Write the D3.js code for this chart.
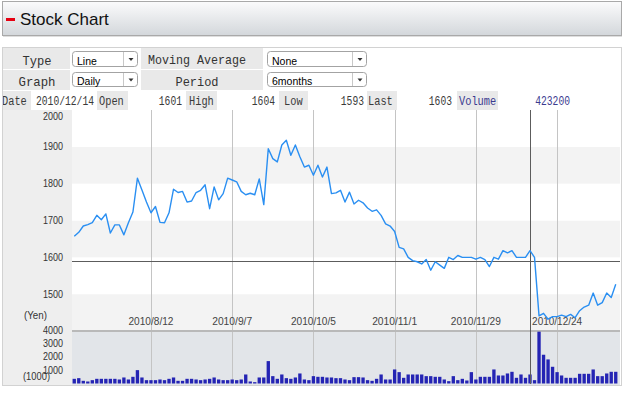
<!DOCTYPE html>
<html>
<head>
<meta charset="utf-8">
<script src="https://cdn.jsdelivr.net/npm/d3@7"></script>
<style>
html, body { margin: 0; padding: 0; background: #fff; }
svg { display: block; }
</style>
</head>
<body>
<svg width="626" height="395"></svg>
<script>
// daily closes, oldest first
var prices = [
  1657, 1668, 1685, 1689, 1694, 1714, 1702, 1718, 1666, 1688,
  1688, 1661, 1694, 1723, 1815, 1783, 1750, 1721, 1738, 1695,
  1694, 1721, 1785, 1776, 1779, 1750, 1753, 1776, 1782, 1797,
  1732, 1791, 1756, 1773, 1815, 1810, 1805, 1779, 1770, 1774,
  1770, 1813, 1743, 1895, 1868, 1859, 1905, 1918, 1877, 1905,
  1873, 1845, 1850, 1823, 1850, 1818, 1845, 1773, 1775, 1782,
  1750, 1777, 1745, 1755, 1748, 1734, 1725, 1729, 1714, 1691,
  1685, 1670, 1627, 1623, 1600, 1591, 1588, 1582, 1594, 1565,
  1588, 1579, 1570, 1600, 1594, 1605, 1600, 1600, 1600, 1595,
  1600, 1594, 1575, 1600, 1595, 1618, 1612, 1618, 1600, 1600,
  1600, 1618, 1600, 1441, 1448, 1432, 1439, 1439, 1443, 1439,
  1445, 1436, 1455, 1465, 1470, 1503, 1470, 1477, 1503, 1491,
  1527
];

// volume in thousands of shares
var volumes = [
  350, 400, 200, 150, 250, 350, 350, 350, 350, 350,
  300, 450, 300, 500, 1000, 450, 250, 250, 250, 300,
  250, 350, 450, 200, 200, 350, 350, 300, 250, 300,
  350, 450, 300, 250, 250, 300, 250, 300, 675, 150,
  100, 450, 450, 1675, 550, 350, 675, 400, 350, 450,
  750, 300, 250, 550, 500, 500, 450, 450, 400, 400,
  300, 250, 475, 475, 450, 250, 200, 350, 675, 300,
  300, 1050, 850, 425, 675, 675, 675, 675, 550, 550,
  500, 500, 300, 175, 550, 250, 350, 225, 850, 300,
  500, 500, 500, 1050, 600, 600, 750, 875, 425, 675,
  425, 675, 250, 3875, 2150, 1800, 1250, 850, 600, 425,
  425, 425, 725, 725, 725, 1050, 550, 550, 750, 875,
  875
];

var dateTicks = [17, 35, 53, 71, 89, 107];
var dateLabels = ['2010/8/12', '2010/9/7', '2010/10/5', '2010/11/1', '2010/11/29', '2010/12/24'];
var priceTicks = [1400, 1500, 1600, 1700, 1800, 1900, 2000];
var volumeTicks = [1000, 2000, 3000, 4000];

var selIndex = 101;
var selPrice = 1591;

var quoteLabels = ['Date', 'Open', 'High', 'Low', 'Last', 'Volume'];
var quoteValues = ['2010/12/14', '1601', '1604', '1593', '1603', '423200'];

var MONO = '"Liberation Mono", "DejaVu Sans Mono", monospace';
var SANS = '"Liberation Sans", Arial, sans-serif';

var svg = d3.select('svg');
var defs = svg.append('defs');

// ---- header bar
var grad = defs.append('linearGradient').attr('id', 'hdr')
  .attr('x1', 0).attr('y1', 0).attr('x2', 0).attr('y2', 1);
grad.append('stop').attr('offset', '0%').attr('stop-color', '#fbfbfc');
grad.append('stop').attr('offset', '100%').attr('stop-color', '#d3d7db');

svg.append('rect')
  .attr('x', 2.5).attr('y', 1.5).attr('width', 619).attr('height', 34)
  .attr('fill', 'url(#hdr)').attr('stroke', '#a9a9a9');
svg.append('line')
  .attr('x1', 3).attr('x2', 622).attr('y1', 36.5).attr('y2', 36.5)
  .attr('stroke', '#dedede');
svg.append('rect')
  .attr('x', 6).attr('y', 18).attr('width', 9).attr('height', 3)
  .attr('fill', '#e60012');
svg.append('text')
  .attr('x', 20).attr('y', 25)
  .style('font-family', SANS).style('font-size', '17px')
  .attr('fill', '#111')
  .text('Stock Chart');

// ---- control table
function cell(x, y, w, h, fill) {
  svg.append('rect')
    .attr('x', x).attr('y', y).attr('width', w).attr('height', h)
    .attr('fill', fill);
}

function monoText(x, y, str, size, len, anchor, color) {
  svg.append('text')
    .attr('x', x).attr('y', y)
    .attr('text-anchor', anchor)
    .attr('textLength', len)
    .attr('lengthAdjust', 'spacingAndGlyphs')
    .style('font-family', MONO).style('font-size', size + 'px')
    .attr('fill', color)
    .text(str);
}

var clipCount = 0;
function selectBox(x, y, w, h, str, base) {
  var id = 'sel' + (clipCount++);
  defs.append('clipPath').attr('id', id)
    .append('rect').attr('x', x).attr('y', y).attr('width', w).attr('height', h);
  svg.append('rect')
    .attr('x', x + 0.5).attr('y', y + 0.5).attr('width', w - 1).attr('height', h - 1)
    .attr('rx', 3).attr('fill', '#fff').attr('stroke', '#a3a3a3');
  svg.append('text')
    .attr('x', x + 5).attr('y', base)
    .attr('clip-path', 'url(#' + id + ')')
    .style('font-family', SANS).style('font-size', '10.5px')
    .attr('fill', '#000')
    .text(str);
  svg.append('line')
    .attr('x1', x + w - 14.5).attr('x2', x + w - 14.5)
    .attr('y1', y + 1).attr('y2', y + h - 1)
    .attr('stroke', '#c8c8c8');
  var ax = x + w - 7, ay = y + h / 2 - 1;
  svg.append('path')
    .attr('d', 'M' + (ax - 2.5) + ',' + ay + 'L' + (ax + 2.5) + ',' + ay + 'L' + ax + ',' + (ay + 3) + 'Z')
    .attr('fill', '#333');
}

var LABEL_BG = '#e9e9e9';

// rows 1 and 2
[[48, 21], [70, 20]].forEach(function (r) {
  cell(3, r[0], 67, r[1], LABEL_BG);
  cell(71, r[0], 69, r[1], '#fff');
  cell(141, r[0], 122, r[1], LABEL_BG);
  cell(264, r[0], 357, r[1], '#fff');
});
monoText(37, 64.5, 'Type', 13.5, 29, 'middle', '#333');
monoText(197, 64, 'Moving Average', 13.5, 98, 'middle', '#333');
monoText(37, 85.5, 'Graph', 13.5, 37, 'middle', '#333');
monoText(197, 85.5, 'Period', 13.5, 43, 'middle', '#333');

selectBox(72, 51, 66, 16, 'Line', 64.5);
selectBox(267, 51, 100, 16, 'None', 64.5);
selectBox(72, 72, 66, 15, 'Daily', 85);
selectBox(267, 72, 100, 15, '6months', 85);

// row 3: quote cells (label cell, value cell)
var quoteCells = [
  [3, 28, 32, 64], [97, 31, 129, 56], [186, 31, 218, 60],
  [279, 29, 309, 57], [367, 30, 398, 58], [457, 41, 499, 78]
];
var quoteLabelX = [2, 99, 189, 284, 368, 459];
var quoteValueEnd = [94, 182, 275, 364, 452, 570];
quoteCells.forEach(function (c, k) {
  cell(c[0], 91, c[1], 19, LABEL_BG);
  cell(c[2], 91, c[3], 19, '#fff');
  var col = quoteLabels[k] === 'Volume' ? '#3b3b8f' : '#3a3a3a';
  monoText(quoteLabelX[k], 104.5, quoteLabels[k], 12.5, quoteLabels[k].length * 6.2, 'start', col);
  monoText(quoteValueEnd[k], 104.5, quoteValues[k], 12.5, quoteValues[k].length * 5.8, 'end', col);
});
cell(578, 91, 43, 19, '#fff');

// ---- chart
var n = prices.length;
var plotLeft = 72, plotRight = 620, pointsRight = 618;
var priceTop = 110, priceBottom = 331;
var volTop = 331, volBottom = 384;

var x = d3.scaleLinear().domain([0, n]).range([plotLeft, pointsRight]);
var step = x(1) - x(0);
function cx(i) { return x(i + 0.5); }

var y = d3.scaleLinear().domain([1400, 2000]).range([priceBottom, priceTop]);
var yv = d3.scaleLinear().domain([0, 4000]).range([volBottom - 0.5, volTop - 1]);

// label column
cell(3, 110, 69, 275, '#eeeeee');

// price bands
svg.append('g').selectAll('rect')
  .data(d3.pairs(priceTicks))
  .join('rect')
  .attr('x', plotLeft).attr('width', plotRight - plotLeft)
  .attr('y', function (d) { return y(d[1]); })
  .attr('height', function (d) { return y(d[0]) - y(d[1]); })
  .attr('fill', function (d, i) { return i % 2 === 0 ? '#f3f3f3' : '#ffffff'; });

// volume panel
cell(plotLeft, volTop, plotRight - plotLeft, volBottom - volTop + 1, '#e2e5e9');

// vertical grid
svg.append('g').selectAll('line')
  .data(dateTicks)
  .join('line')
  .attr('x1', function (d) { return Math.round(cx(d)) + 0.5; })
  .attr('x2', function (d) { return Math.round(cx(d)) + 0.5; })
  .attr('y1', priceTop).attr('y2', volBottom)
  .attr('stroke', '#c4c4c4');

cell(plotLeft, volTop - 1, plotRight - plotLeft, 2, '#b9b9b9');

// date labels
svg.append('g').selectAll('text')
  .data(dateTicks)
  .join('text')
  .attr('x', function (d) { return cx(d); })
  .attr('y', 325)
  .attr('text-anchor', 'middle')
  .attr('textLength', function (d, i) { return dateLabels[i].length * 5; })
  .attr('lengthAdjust', 'spacingAndGlyphs')
  .style('font-family', SANS).style('font-size', '10.5px')
  .attr('fill', '#444')
  .text(function (d, i) { return dateLabels[i]; });

// volume bars
svg.append('g').selectAll('rect')
  .data(volumes)
  .join('rect')
  .attr('x', function (d, i) { return cx(i) - step * 0.37; })
  .attr('width', step * 0.74)
  .attr('y', function (d) { return yv(d); })
  .attr('height', function (d) { return yv(0) - yv(d); })
  .attr('fill', '#2424b4');

// crosshair
svg.append('line')
  .attr('x1', Math.round(cx(selIndex)) + 0.5).attr('x2', Math.round(cx(selIndex)) + 0.5)
  .attr('y1', priceTop).attr('y2', volBottom)
  .attr('stroke', '#5c5c5c');
svg.append('line')
  .attr('x1', plotLeft).attr('x2', plotRight)
  .attr('y1', Math.round(y(selPrice)) + 0.5).attr('y2', Math.round(y(selPrice)) + 0.5)
  .attr('stroke', '#5c5c5c');

// price line
var line = d3.line()
  .x(function (d, i) { return cx(i); })
  .y(function (d) { return y(d); });
svg.append('path')
  .datum(prices)
  .attr('d', line)
  .attr('fill', 'none')
  .attr('stroke', '#2a8ff2')
  .attr('stroke-width', 1.4)
  .attr('stroke-linejoin', 'round');

// axis labels
svg.append('g').selectAll('text')
  .data(priceTicks.slice(1))
  .join('text')
  .attr('x', 63)
  .attr('y', function (d) { return Math.max(y(d), priceTop + 6) + 3.5; })
  .attr('text-anchor', 'end')
  .attr('textLength', function (d) { return String(d).length * 5; })
  .attr('lengthAdjust', 'spacingAndGlyphs')
  .style('font-family', SANS).style('font-size', '10.5px')
  .attr('fill', '#333')
  .text(function (d) { return d; });

svg.append('g').selectAll('text')
  .data(volumeTicks)
  .join('text')
  .attr('x', 63)
  .attr('y', function (d) { return yv(d) + 3.5; })
  .attr('text-anchor', 'end')
  .attr('textLength', function (d) { return String(d).length * 5; })
  .attr('lengthAdjust', 'spacingAndGlyphs')
  .style('font-family', SANS).style('font-size', '10.5px')
  .attr('fill', '#333')
  .text(function (d) { return d; });

svg.append('text')
  .attr('x', 24).attr('y', 319)
  .attr('textLength', 23).attr('lengthAdjust', 'spacingAndGlyphs')
  .style('font-family', SANS).style('font-size', '10.5px')
  .attr('fill', '#333')
  .text('(Yen)');
svg.append('text')
  .attr('x', 23).attr('y', 380)
  .attr('textLength', 27).attr('lengthAdjust', 'spacingAndGlyphs')
  .style('font-family', SANS).style('font-size', '10.5px')
  .attr('fill', '#333')
  .text('(1000)');

// outer frame
svg.append('rect')
  .attr('x', 2.5).attr('y', 47.5).attr('width', 619).attr('height', 338)
  .attr('fill', 'none').attr('stroke', '#d2d2d2');
</script>
</body>
</html>
